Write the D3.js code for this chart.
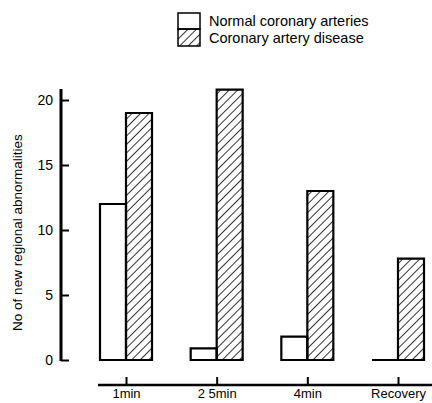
<!DOCTYPE html>
<html>
<head>
<meta charset="utf-8">
<script src="https://cdn.jsdelivr.net/npm/d3@7"></script>
<style>
  body { margin: 0; background: #fff; }
  svg { display: block; font-family: "Liberation Sans", Arial, sans-serif; }
</style>
</head>
<body>
<svg width="432" height="403"></svg>
<script>
// data
var categories = ["1min", "2 5min", "4min", "Recovery"];
var seriesNames = ["Normal coronary arteries", "Coronary artery disease"];
var normal = [12, 0.9, 1.8, 0];
var disease = [19, 20.8, 13, 7.8];
var yTicks = [0, 5, 10, 15, 20];

var svg = d3.select("svg");

// hatch pattern
var defs = svg.append("defs");
var pat = defs.append("pattern")
    .attr("id", "hatch")
    .attr("patternUnits", "userSpaceOnUse")
    .attr("width", 6).attr("height", 6)
    .attr("patternTransform", "rotate(45)");
pat.append("line")
    .attr("x1", 0).attr("y1", 0).attr("x2", 0).attr("y2", 6)
    .attr("stroke", "#000").attr("stroke-width", 1.6);

var y = d3.scaleLinear().domain([0, 20]).range([360, 100]);
var x = d3.scalePoint().domain(categories).range([126, 398]);
var sub = d3.scaleBand().domain(seriesNames).range([-26, 26]);

// y axis
var yAxis = svg.append("g")
    .attr("transform", "translate(61,0)")
    .call(d3.axisLeft(y).tickValues(yTicks).tickSize(-8).tickPadding(8));
yAxis.select(".domain").remove();
yAxis.selectAll(".tick line").attr("stroke", "#000").attr("stroke-width", 2);
yAxis.selectAll(".tick text").attr("font-size", 14).attr("fill", "#000")
    .attr("font-family", "Liberation Sans, Arial, sans-serif");
svg.append("line")
    .attr("x1", 61).attr("x2", 61)
    .attr("y1", y(20) - 11).attr("y2", y(0) + 1)
    .attr("stroke", "#000").attr("stroke-width", 3);

svg.append("text")
    .attr("transform", "translate(22," + y(9.8) + ") rotate(-90)")
    .attr("text-anchor", "middle")
    .attr("font-size", 13.5)
    .text("No of new regional abnormalities");

// bars (drawn as paths so a zero bar still shows its base line)
function barPath(x0, w, v) {
  var p = d3.path();
  p.moveTo(x0, y(0));
  p.lineTo(x0, y(v));
  p.lineTo(x0 + w, y(v));
  p.lineTo(x0 + w, y(0));
  p.closePath();
  return p.toString();
}

var groups = svg.selectAll(".grp")
  .data(categories)
  .enter().append("g")
    .attr("class", "grp")
    .attr("transform", function(d) { return "translate(" + x(d) + ",0)"; });

groups.append("path")
    .attr("d", function(d, i) { return barPath(sub(seriesNames[0]), sub.bandwidth(), normal[i]); })
    .attr("fill", "#fff").attr("stroke", "#000").attr("stroke-width", 2.2);

groups.append("path")
    .attr("d", function(d, i) { return barPath(sub(seriesNames[1]), sub.bandwidth(), disease[i]); })
    .attr("fill", "url(#hatch)").attr("stroke", "#000").attr("stroke-width", 2.2);

// x axis
var xAxis = svg.append("g")
    .attr("transform", "translate(0,385)")
    .call(d3.axisBottom(x).tickSize(-8).tickPadding(4));
xAxis.select(".domain").remove();
xAxis.selectAll(".tick line").attr("stroke", "#000").attr("stroke-width", 2);
xAxis.selectAll(".tick text").attr("font-size", 13).attr("fill", "#000")
    .attr("font-family", "Liberation Sans, Arial, sans-serif");
svg.append("line")
    .attr("x1", 98).attr("x2", 432)
    .attr("y1", 385).attr("y2", 385)
    .attr("stroke", "#000").attr("stroke-width", 2.5);

// legend
var legend = svg.append("g").attr("transform", "translate(178,13)");
legend.append("rect")
    .attr("x", 0).attr("y", 0).attr("width", 22).attr("height", 16)
    .attr("fill", "#fff").attr("stroke", "#000").attr("stroke-width", 1.5);
legend.append("rect")
    .attr("x", 0).attr("y", 16).attr("width", 22).attr("height", 17)
    .attr("fill", "url(#hatch)").attr("stroke", "#000").attr("stroke-width", 1.5);
legend.selectAll("text")
  .data(seriesNames)
  .enter().append("text")
    .attr("x", 31)
    .attr("y", function(d, i) { return 13 + i * 17; })
    .attr("font-size", 14.5)
    .text(function(d) { return d; });
</script>
</body>
</html>
